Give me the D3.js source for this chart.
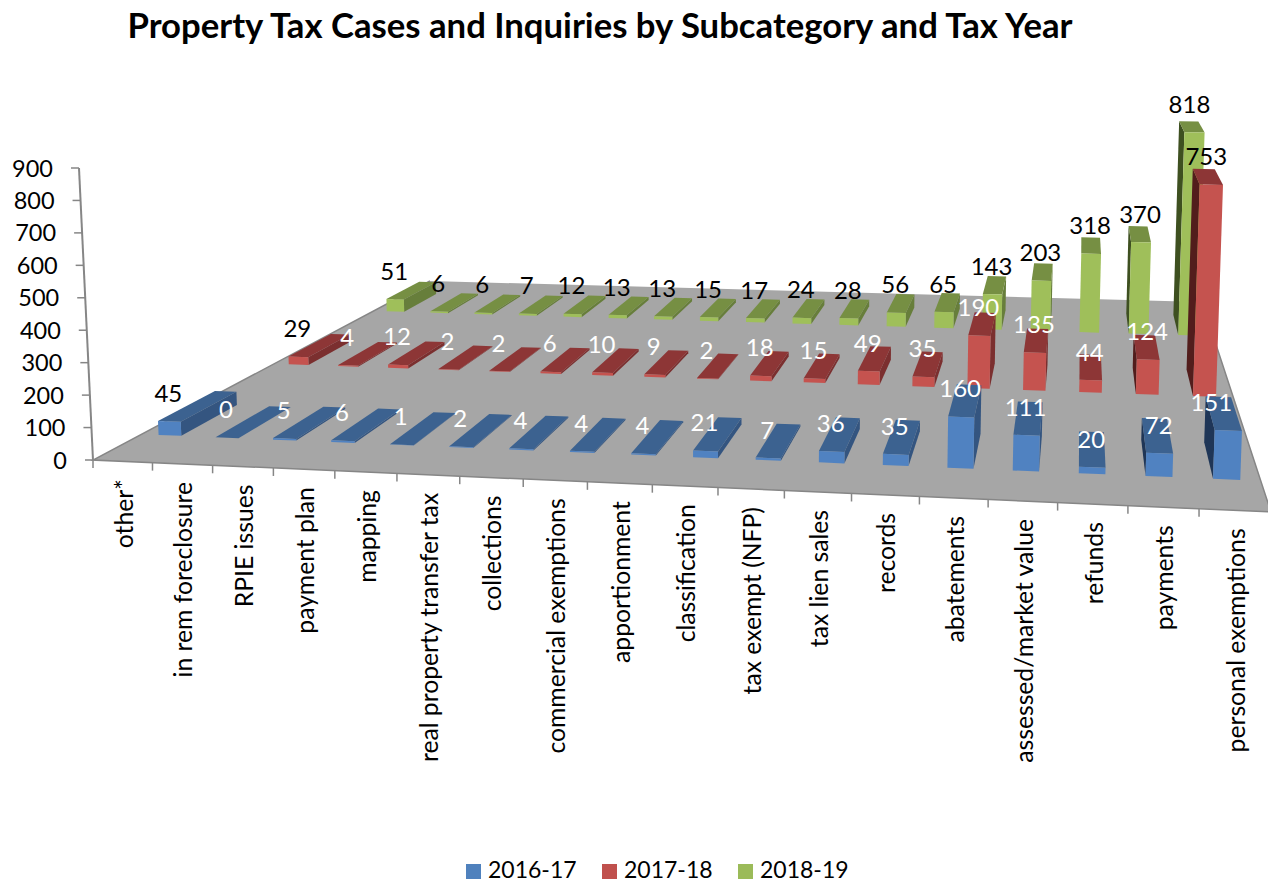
<!DOCTYPE html>
<html>
<head>
<meta charset="utf-8">
<title>Property Tax Cases and Inquiries</title>
<script src="https://d3js.org/d3.v7.min.js"></script>
<style>
	html, body { margin: 0; padding: 0; background: #fff; }
	text { font-family: Lato, "Open Sans", sans-serif; fill: #000; }
</style>
</head>
<body>
<div id="chart"></div>
<script>
'use strict'

/**
 * Data
 */
const categories = ['other*', 'in rem foreclosure', 'RPIE issues', 'payment plan', 'mapping',
	'real property transfer tax', 'collections', 'commercial exemptions', 'apportionment',
	'classification', 'tax exempt (NFP)', 'tax lien sales', 'records', 'abatements',
	'assessed/market value', 'refunds', 'payments', 'personal exemptions'];
const seriesNames = ['2016-17', '2017-18', '2018-19'];
const values1617 = [45, 0, 5, 6, 1, 2, 4, 4, 4, 21, 7, 36, 35, 160, 111, 20, 72, 151];
const values1718 = [29, 4, 12, 2, 2, 6, 10, 9, 2, 18, 15, 49, 35, 190, 135, 44, 124, 753];
const values1819 = [51, 6, 6, 7, 12, 13, 13, 15, 17, 24, 28, 56, 65, 143, 203, 318, 370, 818];
const seriesValues = [values1617, values1718, values1819];

/**
 * Colours: front, top, right side, left side
 */
const seriesColors = [
	{front: '#5082c1', top: '#3c6290', right: '#345580', left: '#1f3657'},
	{front: '#c5534f', top: '#8d3636', right: '#7b2f2f', left: '#521d1c'},
	{front: '#9fbf5a', top: '#768f43', right: '#677e3b', left: '#3e5020'}
];
const legendColors = ['#4f81bd', '#c0504d', '#9bbb59'];
const labelColors = ['#fff', '#fff', '#000'];
const axisColor = '#868686';

const width = 1268;
const height = 883;

// Floor corners on the page: front left, front right, back right, back left
const floor = [[93, 460], [1271, 512], [1202, 302], [430, 281]];
// Where the upright edges would meet, far under the chart
const verticalVanish = [757, 14300];
// How fast heights shrink along the floor (u, v)
const shrink = [-0.046, 0.46];
// The tallest column's labels sit further left than the others
const lastLabelShift = [-17, -5, -5];

const homography = getHomography(floor);

// Scales in floor units (0..1 in both directions)
const catScale = d3.scaleBand().domain(categories).range([0, 1]).paddingInner(0.6).paddingOuter(0.3);
const catCenter = d3.scaleBand().domain(categories).range([0, 1]);
const depthScale = d3.scaleBand().domain(seriesNames).range([0, 1]).paddingInner(0.6).paddingOuter(0.3);
const valueScale = d3.scaleLinear().domain([0, 900]).range([0, 292]);
const legendScale = d3.scaleLinear().domain([0, 2]).range([466, 738]);

function getHomography(q){
	let sx = q[0][0] - q[1][0] + q[2][0] - q[3][0];
	let sy = q[0][1] - q[1][1] + q[2][1] - q[3][1];
	let dx1 = q[1][0] - q[2][0], dy1 = q[1][1] - q[2][1];
	let dx2 = q[3][0] - q[2][0], dy2 = q[3][1] - q[2][1];
	let den = dx1 * dy2 - dx2 * dy1;
	let g = (sx * dy2 - dx2 * sy) / den;
	let h = (dx1 * sy - sx * dy1) / den;
	return {
		a: q[1][0] - q[0][0] + g * q[1][0], b: q[3][0] - q[0][0] + h * q[3][0], c: q[0][0],
		d: q[1][1] - q[0][1] + g * q[1][1], e: q[3][1] - q[0][1] + h * q[3][1], f: q[0][1],
		g: g, h: h
	};
}

// Floor position (u, v) plus a value above the floor, to page pixels
function project(u, v, value){
	let H = homography;
	let w = H.g * u + H.h * v + 1;
	let x = (H.a * u + H.b * v + H.c) / w;
	let y = (H.d * u + H.e * v + H.f) / w;
	let rise = valueScale(value || 0) / (1 + shrink[0] * u + shrink[1] * v);
	let lean = (x - verticalVanish[0]) / (verticalVanish[1] - y);
	return [x + lean * rise, y - rise];
}

const svg = d3.select('#chart')
	.append('svg')
	.attr('width', width)
	.attr('height', height);

svg.append('text')
	.attr('x', 600)
	.attr('y', 38)
	.attr('text-anchor', 'middle')
	.style('font-size', '34.7px')
	.style('font-weight', 'bold')
	.text('Property Tax Cases and Inquiries by Subcategory and Tax Year');

// Floor
svg.append('polygon')
	.attr('points', floor.join(' '))
	.attr('fill', '#a6a6a6');
svg.append('polyline')
	.attr('points', [floor[3], floor[0], floor[1], floor[2]].join(' '))
	.attr('fill', 'none')
	.attr('stroke', axisColor)
	.attr('stroke-width', 1.5);

// Value axis
const valueAxis = svg.append('g');
valueAxis.append('line')
	.attr('x1', project(0, 0, 0)[0]).attr('y1', project(0, 0, 0)[1])
	.attr('x2', project(0, 0, 900)[0]).attr('y2', project(0, 0, 900)[1])
	.attr('stroke', axisColor)
	.attr('stroke-width', 2);
for(let t of valueScale.ticks(9)) {
	let p = project(0, 0, t);
	valueAxis.append('line')
		.attr('x1', p[0]).attr('y1', p[1])
		.attr('x2', p[0] - 8).attr('y2', p[1])
		.attr('stroke', axisColor)
		.attr('stroke-width', 1.5);
	valueAxis.append('text')
		.attr('x', p[0] - 26)
		.attr('y', p[1] + 8.5)
		.attr('text-anchor', 'end')
		.style('font-size', '23.5px')
		.text(t);
}

// Category axis ticks and labels
const catAxis = svg.append('g');
categories.forEach(function(c){
	let start = catCenter(c);
	let p = project(start, 0, 0);
	catAxis.append('line')
		.attr('x1', p[0]).attr('y1', p[1])
		.attr('x2', p[0]).attr('y2', p[1] + 8)
		.attr('stroke', axisColor)
		.attr('stroke-width', 1.5);
	let m = project(start + catCenter.bandwidth() / 2, 0, 0);
	catAxis.append('text')
		.attr('transform', `translate(${m[0] + 10},${m[1] + 18}) rotate(-90)`)
		.attr('text-anchor', 'end')
		.style('font-size', '24.7px')
		.text(c);
});

function face(g, points, color){
	g.append('polygon')
		.attr('points', points.join(' '))
		.attr('fill', color);
}

// Bars, back row first so the front rows cover it
const bars = svg.append('g');
const labels = [];
const floorShape = floor.slice();
d3.range(seriesNames.length).reverse().forEach(function(s){
	let v0 = depthScale(seriesNames[s]);
	let v1 = v0 + depthScale.bandwidth();
	let colors = seriesColors[s];
	categories.forEach(function(c, i){
		let u0 = catScale(c);
		let u1 = u0 + catScale.bandwidth();
		let val = seriesValues[s][i];
		let g = bars.append('g');
		if(project(u1, v1)[0] > project(u1, v0)[0]) {
			face(g, [project(u1, v0), project(u1, v1), project(u1, v1, val), project(u1, v0, val)], colors.right);
		}
		if(project(u0, v1)[0] < project(u0, v0)[0]) {
			face(g, [project(u0, v0), project(u0, v1), project(u0, v1, val), project(u0, v0, val)], colors.left);
		}
		face(g, [project(u0, v0, val), project(u1, v0, val), project(u1, v1, val), project(u0, v1, val)], colors.top);
		face(g, [project(u0, v0), project(u1, v0), project(u1, v0, val), project(u0, v0, val)], colors.front);
		let top = project((u0 + u1) / 2, v0, val);
		let shift = i === categories.length - 1 ? lastLabelShift[s] : -1;
		labels.push({x: top[0] + shift, y: top[1] - 28, text: val, series: s});
	});
});

// Value labels go on top of everything, dark when they fall off the floor
svg.append('g').selectAll('text')
	.data(labels)
	.enter()
	.append('text')
		.attr('x', d => d.x)
		.attr('y', d => d.y + 8.5)
		.attr('text-anchor', 'middle')
		.style('font-size', '24px')
		.style('fill', d => d3.polygonContains(floorShape, [d.x, d.y]) ? labelColors[d.series] : '#000')
		.text(d => d.text);

// Legend
const legend = svg.append('g');
seriesNames.forEach(function(name, i){
	let x = legendScale(i);
	legend.append('rect')
		.attr('x', x).attr('y', 864)
		.attr('width', 15).attr('height', 15)
		.attr('fill', legendColors[i]);
	legend.append('text')
		.attr('x', x + 22).attr('y', 878)
		.style('font-size', '23px')
		.text(name);
});
</script>
</body>
</html>
